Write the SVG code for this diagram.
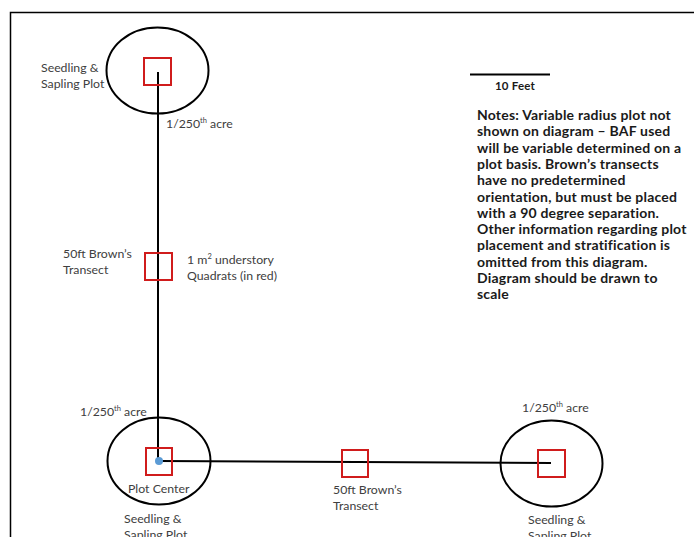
<svg xmlns="http://www.w3.org/2000/svg" width="694" height="537" viewBox="0 0 694 537">
<style>
.lbl{font-family:Lato,"Liberation Sans",sans-serif;font-size:12.3px;fill:#404040}
.sup{font-size:7.5px}
.note{font-family:Lato,"Liberation Sans",sans-serif;font-size:14px;letter-spacing:0.2px;font-weight:bold;fill:#1a1a1a}
.plot{fill:none;stroke:#000;stroke-width:2}
.quad{fill:none;stroke:#d01c1c;stroke-width:2}
.ln{stroke:#000;stroke-width:2;fill:none}
</style>
<rect width="694" height="537" fill="#fff"/>
<path d="M10.5 537 V12.5 H694" fill="none" stroke="#000" stroke-width="1.5"/>
<g id="connectors">
<line class="ln" x1="158" y1="72" x2="158" y2="461"/>
<line class="ln" x1="159" y1="461" x2="551" y2="463"/>
</g>
<g id="plot-top">
<ellipse class="plot" cx="157.5" cy="70.5" rx="51" ry="43"/>
<rect class="quad" x="144" y="58" width="27" height="27"/>
<text class="lbl" x="41" y="72">Seedling &amp;</text>
<text class="lbl" x="41" y="88">Sapling Plot</text>
<text class="lbl" x="166" y="128">1/250<tspan class="sup" dy="-5">th</tspan><tspan dy="5"> acre</tspan></text>
</g>
<g id="transect-vertical">
<rect class="quad" x="145" y="253" width="27" height="27"/>
<text class="lbl" x="63" y="258">50ft Brown’s</text>
<text class="lbl" x="63" y="274">Transect</text>
<text class="lbl" x="187" y="264">1 m<tspan class="sup" dy="-5">2</tspan><tspan dy="5"> understory</tspan></text>
<text class="lbl" x="187" y="280">Quadrats (in red)</text>
</g>
<g id="plot-center">
<ellipse class="plot" cx="159" cy="461" rx="51.5" ry="43.5"/>
<rect class="quad" x="146" y="448" width="26" height="27"/>
<circle cx="159" cy="461" r="4" fill="#5b9bd5"/>
<text class="lbl" x="80" y="416">1/250<tspan class="sup" dy="-5">th</tspan><tspan dy="5"> acre</tspan></text>
<text class="lbl" x="128" y="493">Plot Center</text>
<text class="lbl" x="124" y="523">Seedling &amp;</text>
<text class="lbl" x="124" y="539">Sapling Plot</text>
</g>
<g id="transect-horizontal">
<rect class="quad" x="342" y="450" width="26" height="27"/>
<text class="lbl" x="333" y="494">50ft Brown’s</text>
<text class="lbl" x="333" y="510">Transect</text>
</g>
<g id="plot-right">
<ellipse class="plot" cx="551.5" cy="463.5" rx="51" ry="43"/>
<rect class="quad" x="538" y="450" width="27" height="27"/>
<text class="lbl" x="522" y="412">1/250<tspan class="sup" dy="-5">th</tspan><tspan dy="5"> acre</tspan></text>
<text class="lbl" x="528" y="524">Seedling &amp;</text>
<text class="lbl" x="528" y="540">Sapling Plot</text>
</g>
<g id="scale">
<line x1="470" y1="74.5" x2="550" y2="74.5" stroke="#000" stroke-width="2"/>
<text class="note" x="495" y="90" style="font-size:11.5px;letter-spacing:0.2px">10 Feet</text>
</g>
<g id="notes">
<text class="note">
<tspan x="477" y="120">Notes: Variable radius plot not</tspan>
<tspan x="477" y="136.3">shown on diagram – BAF used</tspan>
<tspan x="477" y="152.6">will be variable determined on a</tspan>
<tspan x="477" y="168.9">plot basis. Brown’s transects</tspan>
<tspan x="477" y="185.2">have no predetermined</tspan>
<tspan x="477" y="201.5">orientation, but must be placed</tspan>
<tspan x="477" y="217.8">with a 90 degree separation.</tspan>
<tspan x="477" y="234.1">Other information regarding plot</tspan>
<tspan x="477" y="250.4">placement and stratification is</tspan>
<tspan x="477" y="266.7">omitted from this diagram.</tspan>
<tspan x="477" y="283">Diagram should be drawn to</tspan>
<tspan x="477" y="299.3">scale</tspan>
</text>
</g>
</svg>
